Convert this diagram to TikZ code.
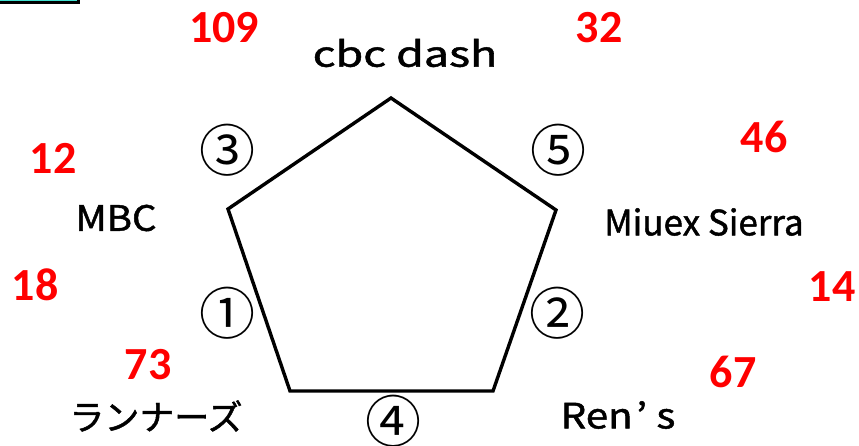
\documentclass[tikz,border=0pt]{standalone}
\usepackage{fontspec}
\usepackage{graphicx}
\newfontfamily\numfont{Carlito}[BoldFont={Carlito Bold}]
\newfontfamily\jpfont{Noto Sans CJK JP}[FakeBold=1.3]
\newfontfamily\circfont{Noto Sans CJK JP}
\definecolor{numred}{RGB}{255,0,0}
\definecolor{boxcyan}{RGB}{64,224,208}
\begin{document}
\begin{tikzpicture}[x=1pt,y=-1pt,
  num/.style={text=numred,font=\numfont\bfseries\fontsize{46}{46}\selectfont,inner sep=0pt,anchor=center},
  lbl/.style={text=black,font=\jpfont\fontsize{35}{35}\selectfont,inner sep=0pt,anchor=center},
  circ/.style={text=black,font=\circfont\fontsize{56}{56}\selectfont,inner sep=0pt,anchor=center},
  edge/.style={draw=black,line width=3.4pt,line join=miter}]
\useasboundingbox (0,0) rectangle (859,445);
\begin{scope}
\clip (0,0) rectangle (859,445);
\draw[fill=boxcyan,draw=black,line width=3pt] (-10,-20) rectangle (78,2.5);
\end{scope}
% pentagon vertices
\coordinate (top) at (391,98);
\coordinate (ur) at (556,210);
\coordinate (lr) at (493,391);
\coordinate (ll) at (290,391);
\coordinate (ul) at (228,209);
\draw[edge] (top) -- (ur) -- (lr) -- (ll) -- (ul) -- cycle;
% labels
\node[lbl] (cbc) at (405,53) {\scalebox{1.28}[1]{cbc dash}};
\node[lbl] (mbc) at (116,218) {\scalebox{1.1}[1]{MBC}};
\node[lbl] (miu) at (704,222) {Miuex Sierra};
\node[lbl] (run) at (156,416) {ランナーズ};
\node[lbl] (ren) at (618,415) {\scalebox{1.15}[1]{Ren\kern3pt’\kern8pt s}};
% numbers
\node[num] (n109) at (224,28) {109};
\node[num] (n32) at (599,28) {32};
\node[num] (n12) at (53,158) {12};
\node[num] (n18) at (35,285) {18};
\node[num] (n46) at (764,137) {46};
\node[num] (n14) at (832,287) {14};
\node[num] (n73) at (148,365) {73};
\node[num] (n67) at (733,372) {67};
% circled
\node[circ] (c3) at (227,150) {③};
\node[circ] (c5) at (558,150) {⑤};
\node[circ] (c1) at (227,313) {①};
\node[circ] (c2) at (557,313) {②};
\node[circ] (c4) at (393,421) {④};
\end{tikzpicture}
\end{document}
